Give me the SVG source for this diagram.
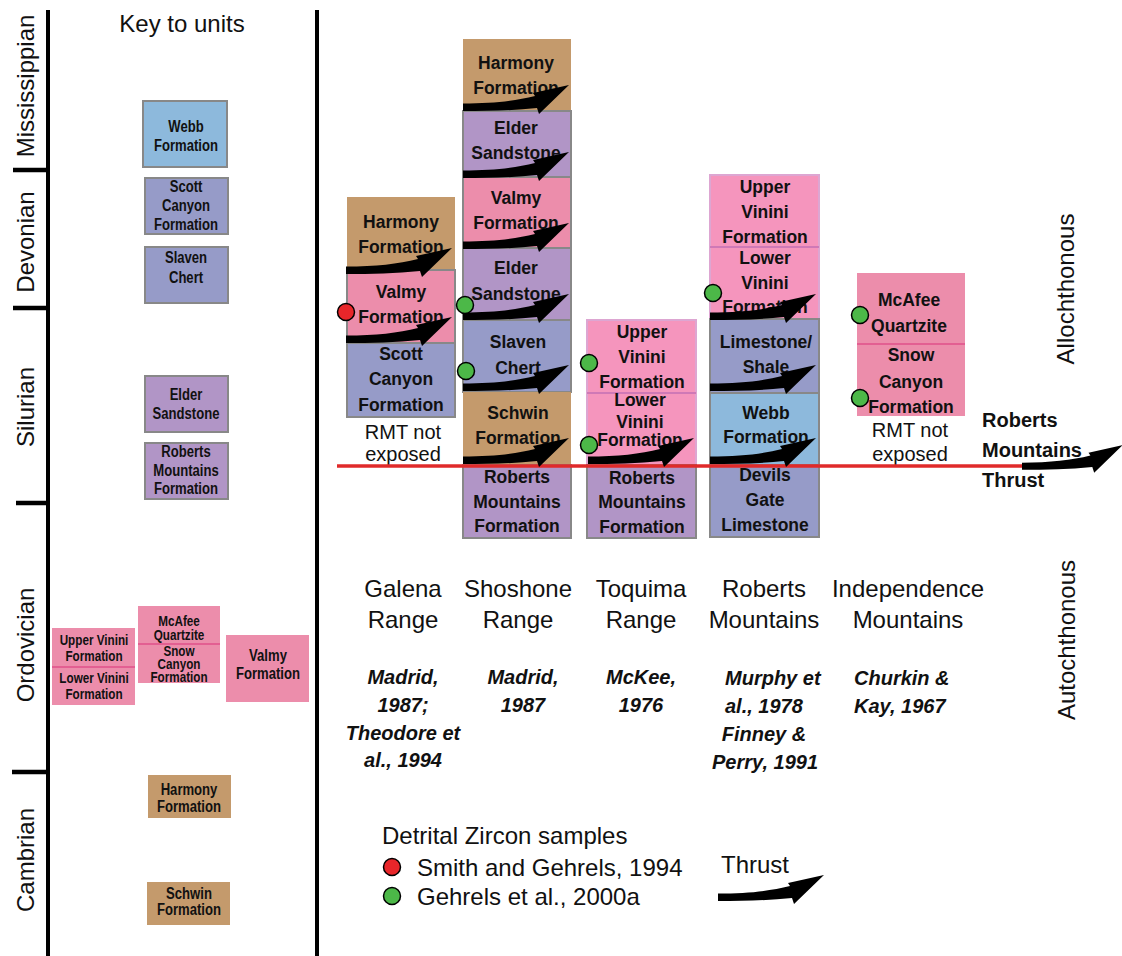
<svg xmlns="http://www.w3.org/2000/svg" width="1122" height="956" viewBox="0 0 1122 956">
<style>
.ax{stroke:#000;stroke-width:4;fill:none}
.tk{stroke:#000;stroke-width:4.5}
.per{font-family:"Liberation Sans",Arial,sans-serif;font-size:24px;fill:#111;text-anchor:middle}
.k{font-family:"Liberation Sans",Arial,sans-serif;font-weight:bold;font-size:17px;fill:#111;text-anchor:middle}
.ks{font-size:15px}
.c{font-family:"Liberation Sans",Arial,sans-serif;font-weight:bold;font-size:17.5px;fill:#111;text-anchor:middle}
.rg{font-family:"Liberation Sans",Arial,sans-serif;font-size:24px;fill:#111;text-anchor:middle}
.nx{font-family:"Liberation Sans",Arial,sans-serif;font-size:20px;fill:#111;text-anchor:middle}
.ref{font-family:"Liberation Sans",Arial,sans-serif;font-weight:bold;font-style:italic;font-size:20px;fill:#111}
.lg{font-family:"Liberation Sans",Arial,sans-serif;font-size:24px;fill:#111}
.rmt{font-family:"Liberation Sans",Arial,sans-serif;font-weight:bold;font-size:20px;fill:#111}
.br{fill:#c49a6c}
.pu{fill:#b195c6;stroke:#888;stroke-width:2}
.bg{fill:#969bc8;stroke:#888;stroke-width:2}
.lb{fill:#8db9dc;stroke:#888;stroke-width:2}
.pk{fill:#ec8dab}
.pks{fill:#ec8dab;stroke:#888;stroke-width:2}
.vp{fill:#f595bd;stroke:#dda6d2;stroke-width:2}
.dv{stroke:#e0508a;stroke-width:1.5}
.dv2{stroke:#cf79b6;stroke-width:2}
.red{fill:#e8262a;stroke:#000;stroke-width:1.5}
.grn{fill:#4cb848;stroke:#000;stroke-width:1.5}
</style>
<defs>
<path id="thr" d="M0,-3.5 C30,-3.5 52,-6 72,-11 L70,-14 L106,-22 L76,7 L74,1 C50,3.5 25,4 0,4 Z" fill="#000"/>
</defs>
<rect width="1122" height="956" fill="#fff"/>

<g id="timescale">
<line class="ax" x1="48" y1="10" x2="48" y2="956"/>
<line class="ax" x1="317" y1="10" x2="317" y2="956"/>
<line class="tk" x1="13" y1="170" x2="48" y2="170"/>
<line class="tk" x1="13" y1="308" x2="48" y2="308"/>
<line class="tk" x1="16" y1="503" x2="48" y2="503"/>
<line class="tk" x1="12" y1="772" x2="48" y2="772"/>
<text class="per" transform="translate(34,86) rotate(-90)">Mississippian</text>
<text class="per" transform="translate(34,242) rotate(-90)">Devonian</text>
<text class="per" transform="translate(34,407) rotate(-90)">Silurian</text>
<text class="per" transform="translate(34,645) rotate(-90)">Ordovician</text>
<text class="per" transform="translate(34,860) rotate(-90)">Cambrian</text>
</g>

<g id="key">
<text class="per" x="182" y="32" font-size="23">Key to units</text>
<g id="key-webb"><rect class="lb" x="143" y="101" width="84" height="66"/><g transform="translate(186,0) scale(0.77,1)"><text class="k" x="0" y="132">Webb</text><text class="k" x="0" y="151">Formation</text></g></g>
<g id="key-scott"><rect class="bg" x="145" y="178" width="83" height="56"/><g transform="translate(186,0) scale(0.77,1)"><text class="k" x="0" y="192">Scott</text><text class="k" x="0" y="211">Canyon</text><text class="k" x="0" y="230">Formation</text></g></g>
<g id="key-slaven"><rect class="bg" x="145" y="247" width="83" height="56"/><g transform="translate(186,0) scale(0.77,1)"><text class="k" x="0" y="263">Slaven</text><text class="k" x="0" y="283">Chert</text></g></g>
<g id="key-elder"><rect class="pu" x="145" y="376" width="83" height="56"/><g transform="translate(186,0) scale(0.77,1)"><text class="k" x="0" y="400">Elder</text><text class="k" x="0" y="419">Sandstone</text></g></g>
<g id="key-rmf"><rect class="pu" x="145" y="443" width="83" height="56"/><g transform="translate(186,0) scale(0.77,1)"><text class="k" x="0" y="457">Roberts</text><text class="k" x="0" y="476">Mountains</text><text class="k" x="0" y="494">Formation</text></g></g>
<g id="key-vinini"><rect class="pk" x="52" y="628" width="83" height="77"/><line class="dv" x1="52" y1="667" x2="135" y2="667"/>
<g transform="translate(94,0) scale(0.78,1)"><text class="k ks" x="0" y="645">Upper Vinini</text><text class="k ks" x="0" y="661">Formation</text><text class="k ks" x="0" y="683">Lower Vinini</text><text class="k ks" x="0" y="699">Formation</text></g></g>
<g id="key-mcafee"><rect class="pk" x="138" y="606" width="82" height="77"/><line class="dv" x1="138" y1="644" x2="220" y2="644"/>
<g transform="translate(179,0) scale(0.78,1)"><text class="k ks" x="0" y="626">McAfee</text><text class="k ks" x="0" y="640">Quartzite</text><text class="k ks" x="0" y="656">Snow</text><text class="k ks" x="0" y="669">Canyon</text><text class="k ks" x="0" y="682">Formation</text></g></g>
<g id="key-valmy"><rect class="pk" x="226" y="635" width="83" height="67"/><g transform="translate(268,0) scale(0.77,1)"><text class="k" x="0" y="661">Valmy</text><text class="k" x="0" y="679">Formation</text></g></g>
<g id="key-harmony"><rect class="br" x="148" y="775" width="83" height="43"/><g transform="translate(189,0) scale(0.77,1)"><text class="k" x="0" y="795">Harmony</text><text class="k" x="0" y="812">Formation</text></g></g>
<g id="key-schwin"><rect class="br" x="147" y="882" width="83" height="43"/><g transform="translate(189,0) scale(0.77,1)"><text class="k" x="0" y="899">Schwin</text><text class="k" x="0" y="915">Formation</text></g></g>
</g>

<g id="galena">
<rect class="br" x="347" y="197" width="108" height="73"/>
<rect class="pks" x="347" y="270" width="108" height="73"/>
<rect class="bg" x="347" y="343" width="108" height="74"/>
<text class="c" x="401" y="228">Harmony</text><text class="c" x="401" y="253">Formation</text>
<text class="c" x="401" y="298">Valmy</text><text class="c" x="401" y="323">Formation</text>
<text class="c" x="401" y="360">Scott</text><text class="c" x="401" y="385">Canyon</text><text class="c" x="401" y="411">Formation</text>
<text class="nx" x="403" y="439">RMT not</text><text class="nx" x="403" y="461">exposed</text>
</g>

<g id="shoshone">
<rect class="br" x="463" y="39" width="108" height="72"/>
<rect class="pu" x="463" y="111" width="108" height="66"/>
<rect class="pks" x="463" y="177" width="108" height="71"/>
<rect class="pu" x="463" y="248" width="108" height="72"/>
<rect class="bg" x="463" y="320" width="108" height="72"/>
<rect class="br" x="463" y="392" width="108" height="73"/>
<rect class="pu" x="463" y="465" width="108" height="73"/>
<text class="c" x="516" y="69">Harmony</text><text class="c" x="516" y="94">Formation</text>
<text class="c" x="516" y="134">Elder</text><text class="c" x="516" y="159">Sandstone</text>
<text class="c" x="516" y="204">Valmy</text><text class="c" x="516" y="229">Formation</text>
<text class="c" x="516" y="274">Elder</text><text class="c" x="516" y="300">Sandstone</text>
<text class="c" x="518" y="348">Slaven</text><text class="c" x="518" y="374">Chert</text>
<text class="c" x="518" y="419">Schwin</text><text class="c" x="518" y="444">Formation</text>
<text class="c" x="517" y="483">Roberts</text><text class="c" x="517" y="508">Mountains</text><text class="c" x="517" y="532">Formation</text>
</g>

<g id="toquima">
<rect class="vp" x="587" y="320" width="109" height="145"/>
<line class="dv2" x1="587" y1="393" x2="696" y2="393"/>
<rect class="pu" x="587" y="465" width="109" height="73"/>
<text class="c" x="642" y="338">Upper</text><text class="c" x="642" y="363">Vinini</text><text class="c" x="642" y="388">Formation</text>
<text class="c" x="640" y="406">Lower</text><text class="c" x="640" y="428">Vinini</text><text class="c" x="640" y="446">Formation</text>
<text class="c" x="642" y="484">Roberts</text><text class="c" x="642" y="508">Mountains</text><text class="c" x="642" y="533">Formation</text>
</g>

<g id="roberts">
<rect class="vp" x="710" y="175" width="109" height="144"/>
<line class="dv2" x1="710" y1="247" x2="819" y2="247"/>
<rect class="bg" x="710" y="319" width="109" height="74"/>
<rect class="lb" x="710" y="393" width="109" height="72"/>
<rect class="bg" x="710" y="465" width="109" height="72"/>
<text class="c" x="765" y="193">Upper</text><text class="c" x="765" y="218">Vinini</text><text class="c" x="765" y="243">Formation</text>
<text class="c" x="765" y="264">Lower</text><text class="c" x="765" y="289">Vinini</text><text class="c" x="765" y="313">Formation</text>
<text class="c" x="766" y="348">Limestone/</text><text class="c" x="766" y="373">Shale</text>
<text class="c" x="766" y="419">Webb</text><text class="c" x="766" y="443">Formation</text>
<text class="c" x="765" y="481">Devils</text><text class="c" x="765" y="506">Gate</text><text class="c" x="765" y="531">Limestone</text>
</g>

<g id="independence">
<rect class="pk" x="857" y="273" width="108" height="143"/>
<line class="dv" x1="857" y1="344" x2="965" y2="344"/>
<text class="c" x="909" y="306">McAfee</text><text class="c" x="909" y="332">Quartzite</text>
<text class="c" x="911" y="361">Snow</text><text class="c" x="911" y="388">Canyon</text><text class="c" x="911" y="413">Formation</text>
<text class="nx" x="910" y="437">RMT not</text><text class="nx" x="910" y="461">exposed</text>
</g>

<g id="connectors">
<line x1="337" y1="466" x2="1025" y2="466" stroke="#e02a2a" stroke-width="3.5"/>
<use href="#thr" transform="translate(346,270)"/>
<use href="#thr" transform="translate(346,339)"/>
<use href="#thr" transform="translate(463,107)"/>
<use href="#thr" transform="translate(463,174)"/>
<use href="#thr" transform="translate(463,245)"/>
<use href="#thr" transform="translate(463,316)"/>
<use href="#thr" transform="translate(463,387)"/>
<use href="#thr" transform="translate(463,460)"/>
<use href="#thr" transform="translate(588,460)"/>
<use href="#thr" transform="translate(710,316)"/>
<use href="#thr" transform="translate(710,387)"/>
<use href="#thr" transform="translate(710,460)"/>
<use href="#thr" transform="translate(1022,466) scale(0.95)"/>
</g>

<g id="samples">
<circle class="red" cx="346" cy="312" r="8.5"/>
<circle class="grn" cx="465" cy="305" r="8.5"/>
<circle class="grn" cx="466" cy="371" r="8.5"/>
<circle class="grn" cx="589" cy="363" r="8.5"/>
<circle class="grn" cx="589" cy="445" r="8.5"/>
<circle class="grn" cx="713" cy="293" r="8.5"/>
<circle class="grn" cx="860" cy="315" r="8.5"/>
<circle class="grn" cx="860" cy="398" r="8.5"/>
</g>

<g id="labels">
<text class="rmt" x="982" y="427">Roberts</text>
<text class="rmt" x="982" y="457">Mountains</text>
<text class="rmt" x="982" y="487">Thrust</text>
<text class="per" transform="translate(1074,289) rotate(-90)">Allochthonous</text>
<text class="per" transform="translate(1075,640) rotate(-90)">Autochthonous</text>
<text class="rg" x="403" y="597">Galena</text><text class="rg" x="403" y="628">Range</text>
<text class="rg" x="518" y="597">Shoshone</text><text class="rg" x="518" y="628">Range</text>
<text class="rg" x="641" y="597">Toquima</text><text class="rg" x="641" y="628">Range</text>
<text class="rg" x="764" y="597">Roberts</text><text class="rg" x="764" y="628">Mountains</text>
<text class="rg" x="908" y="597">Independence</text><text class="rg" x="908" y="628">Mountains</text>
<text class="ref" x="403" y="684" text-anchor="middle">Madrid,</text>
<text class="ref" x="403" y="712" text-anchor="middle">1987;</text>
<text class="ref" x="403" y="740" text-anchor="middle">Theodore et</text>
<text class="ref" x="403" y="767" text-anchor="middle">al., 1994</text>
<text class="ref" x="523" y="684" text-anchor="middle">Madrid,</text>
<text class="ref" x="523" y="712" text-anchor="middle">1987</text>
<text class="ref" x="641" y="684" text-anchor="middle">McKee,</text>
<text class="ref" x="641" y="712" text-anchor="middle">1976</text>
<text class="ref" x="725" y="685">Murphy et</text>
<text class="ref" x="725" y="713">al., 1978</text>
<text class="ref" x="764" y="741" text-anchor="middle">Finney &amp;</text>
<text class="ref" x="765" y="769" text-anchor="middle">Perry, 1991</text>
<text class="ref" x="854" y="685">Churkin &amp;</text>
<text class="ref" x="854" y="713">Kay, 1967</text>
</g>

<g id="legend">
<text class="lg" x="382" y="844">Detrital Zircon samples</text>
<circle class="red" cx="392" cy="867" r="8.5"/>
<text class="lg" x="417" y="876">Smith and Gehrels, 1994</text>
<circle class="grn" cx="392" cy="896" r="8.5"/>
<text class="lg" x="417" y="905">Gehrels et al., 2000a</text>
<text class="lg" x="721" y="873" font-size="19">Thrust</text>
<use href="#thr" transform="translate(718,897)"/>
</g>
</svg>
